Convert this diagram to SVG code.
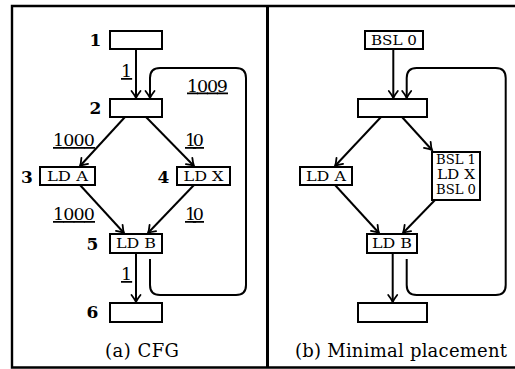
<svg xmlns="http://www.w3.org/2000/svg" width="515" height="369" viewBox="0 0 515 369">
<style>
.frame{fill:none;stroke:#000;stroke-width:2.4}
.box{fill:#fff;stroke:#000;stroke-width:2}
.e{fill:none;stroke:#000;stroke-width:2}
.num{font-family:"DejaVu Serif","Liberation Serif",serif;font-weight:bold;font-size:17px;text-anchor:middle}
.ins{font-family:"DejaVu Serif","Liberation Serif",serif;font-size:12px;text-anchor:middle}
.lbl{font-family:"DejaVu Serif","Liberation Serif",serif;font-size:17.5px;text-decoration:underline}
.cap{font-family:"DejaVu Serif","Liberation Serif",serif;font-size:18px}
</style>
<defs>
<marker id="ah" markerUnits="userSpaceOnUse" markerWidth="14" markerHeight="14" viewBox="-8 -7 10 14" refX="0" refY="0" orient="auto">
<path d="M-7,-4.5 Q-2.5,-1 0,0 Q-2.5,1 -7,4.5" fill="none" stroke="#000" stroke-width="1.8" stroke-linecap="round"/>
</marker>
</defs>
<path class="frame" d="M515,6 H12 V367.5 H515"/>
<line x1="267.5" y1="6" x2="267.5" y2="367.5" stroke="#000" stroke-width="3"/>

<g id="connectors">
<line class="e" x1="136" y1="49" x2="136" y2="98" marker-end="url(#ah)"/>
<path class="e" d="M150,259 V285 Q150,295 160,295 H236 Q246,295 246,285 V78 Q246,68 236,68 H160 Q150,68 150,78 V98" marker-end="url(#ah)"/>
<line class="e" x1="125" y1="117" x2="80" y2="166" marker-end="url(#ah)"/>
<line class="e" x1="146" y1="117" x2="194" y2="166" marker-end="url(#ah)"/>
<line class="e" x1="80" y1="185" x2="124" y2="233" marker-end="url(#ah)"/>
<line class="e" x1="194" y1="185" x2="148" y2="233" marker-end="url(#ah)"/>
<line class="e" x1="136" y1="253" x2="136" y2="302" marker-end="url(#ah)"/>

<line class="e" x1="393.3" y1="49" x2="393.3" y2="98" marker-end="url(#ah)"/>
<path class="e" d="M406.7,259 V285 Q406.7,295 416.7,295 H495.7 Q505.7,295 505.7,285 V78 Q505.7,68 495.7,68 H416.7 Q406.7,68 406.7,78 V98" marker-end="url(#ah)"/>
<line class="e" x1="381" y1="117" x2="335" y2="166" marker-end="url(#ah)"/>
<line class="e" x1="402" y1="117" x2="432" y2="150" marker-end="url(#ah)"/>
<line class="e" x1="335" y1="185" x2="379" y2="233" marker-end="url(#ah)"/>
<line class="e" x1="435" y1="200" x2="403" y2="233" marker-end="url(#ah)"/>
<line class="e" x1="392.7" y1="253" x2="392.7" y2="302" marker-end="url(#ah)"/>

<text class="lbl" x="121" y="77">1</text>
<text class="lbl" x="187" y="91.5" textLength="41">1009</text>
<text class="lbl" x="53" y="146" textLength="42">1000</text>
<text class="lbl" x="185" y="146" textLength="19">10</text>
<text class="lbl" x="53" y="220" textLength="42">1000</text>
<text class="lbl" x="185" y="220" textLength="19">10</text>
<text class="lbl" x="121" y="280">1</text>
</g>

<g id="a1"><rect class="box" x="110" y="31" width="52" height="18"/><text class="num" x="95.5" y="46">1</text></g>
<g id="a2"><rect class="box" x="110" y="99" width="52" height="18"/><text class="num" x="95.5" y="114">2</text></g>
<g id="a3"><rect class="box" x="40" y="167" width="55" height="18"/><text class="ins" x="67.5" y="181" textLength="41" lengthAdjust="spacingAndGlyphs">LD A</text><text class="num" x="27" y="183">3</text></g>
<g id="a4"><rect class="box" x="177" y="167" width="53" height="18"/><text class="ins" x="203.5" y="181" textLength="40" lengthAdjust="spacingAndGlyphs">LD X</text><text class="num" x="163.5" y="183">4</text></g>
<g id="a5"><rect class="box" x="110" y="234" width="52" height="19"/><text class="ins" x="136" y="248" textLength="40" lengthAdjust="spacingAndGlyphs">LD B</text><text class="num" x="92.5" y="250">5</text></g>
<g id="a6"><rect class="box" x="110" y="303" width="52" height="19"/><text class="num" x="92.5" y="318">6</text></g>
<text class="cap" x="105" y="357" textLength="74">(a) CFG</text>

<g id="b1"><rect class="box" x="365" y="31" width="58" height="18"/><text class="ins" x="394" y="45" textLength="46" lengthAdjust="spacingAndGlyphs">BSL 0</text></g>
<g id="b2"><rect class="box" x="358" y="99" width="69" height="18"/></g>
<g id="b3"><rect class="box" x="300" y="167" width="52" height="18"/><text class="ins" x="326" y="181" textLength="40" lengthAdjust="spacingAndGlyphs">LD A</text></g>
<g id="b4"><rect class="box" x="432" y="152" width="48" height="48"/><text class="ins" x="456" y="164" textLength="40" lengthAdjust="spacingAndGlyphs">BSL 1</text><text class="ins" x="456" y="179" textLength="38" lengthAdjust="spacingAndGlyphs">LD X</text><text class="ins" x="456" y="194" textLength="40" lengthAdjust="spacingAndGlyphs">BSL 0</text></g>
<g id="b5"><rect class="box" x="367" y="234" width="50" height="19"/><text class="ins" x="392" y="248" textLength="40" lengthAdjust="spacingAndGlyphs">LD B</text></g>
<g id="b6"><rect class="box" x="358" y="303" width="69" height="19"/></g>
<text class="cap" x="295" y="357" textLength="212">(b) Minimal placement</text>
</svg>
